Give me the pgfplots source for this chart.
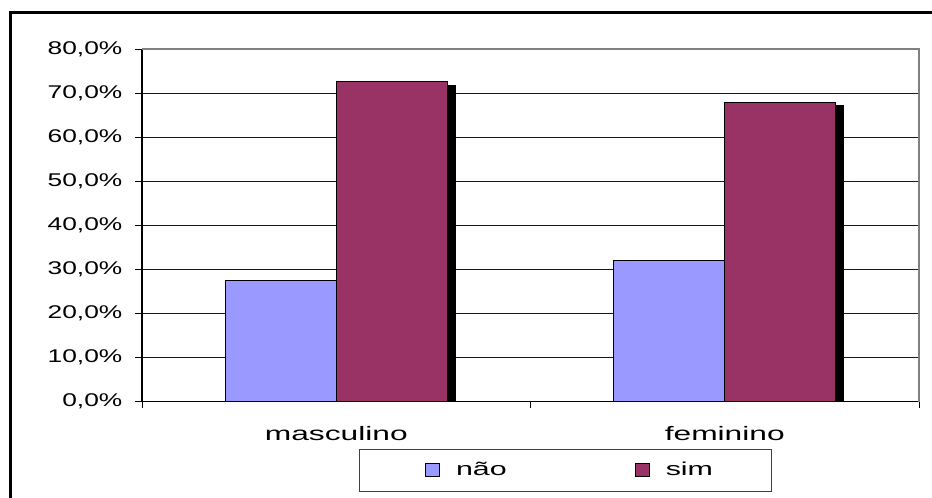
\documentclass[border=0pt]{standalone}
\usepackage{fontspec}
\setmainfont{Liberation Sans}
\newfontfamily\catfont[FakeStretch=1.63]{Liberation Sans}
\usepackage{graphicx}
\usepackage{pgfplots}
\pgfplotsset{compat=1.18}

\definecolor{naocolor}{HTML}{9999FF}
\definecolor{simcolor}{HTML}{993366}
\definecolor{framegray}{HTML}{808080}

% filled legend swatch drawn at the basic layer, so no plot decoration reaches it
\newcommand{\swatch}[1]{%
  \pgfsetlinewidth{0.75pt}\pgfsetstrokecolor{black}\pgfsetfillcolor{#1}%
  \pgfpathrectangle{\pgfpoint{0pt}{-4.9pt}}{\pgfpoint{10.5pt}{9.8pt}}%
  \pgfusepath{fill,stroke}}
% same swatch with some blank room on its left
\newcommand{\leadswatch}[1]{%
  \pgfpathmoveto{\pgfpoint{-7.5pt}{0pt}}\pgfusepath{discard}%
  \swatch{#1}}

\begin{document}
\begin{tikzpicture}[x=0.75pt,y=0.75pt]
\clip (0,0) rectangle (932,498);
\fill[white] (0,0) rectangle (932,498);
% outer chart frame
\draw[line width=2.25pt] (10,-20) -- (10,485) -- (960,485);
\coordinate (plotorigin) at (142,96.3);
\begin{axis}[
  at={(plotorigin)}, anchor=south west,
  scale only axis, width=582.75pt, height=264.3pt,
  ybar=0pt, bar width=0.2857,
  xmin=-0.5, xmax=1.5, ymin=0, ymax=80,
  clip mode=individual,
  axis lines=left,
  axis line style={-, black, line width=0.9pt},
  xtick={0,1}, xticklabels={masculino,feminino},
  minor xtick={-0.5,0.5,1.5},
  major x tick style={draw=none},
  minor x tick style={black, line width=0.75pt},
  ytick={0,10,...,80},
  y tick style={black, line width=0.75pt},
  tick align=outside, major tick length=5.25pt, minor tick length=4.5pt,
  ymajorgrids, grid style={black!90, line width=0.75pt},
  yticklabel={\scalebox{1.43}[1]{\pgfmathprintnumber[fixed,fixed zerofill,precision=1,use comma,assume math mode=true]{\tick}\%}},
  yticklabel style={font=\fontsize{13.8}{16}\selectfont, anchor=east, xshift=-6pt},
  xticklabel style={font=\catfont\fontsize{14.6}{17}\selectfont, anchor=base, yshift=-23.5pt},
  legend columns=2,
  legend style={at={(0.2793,-0.1331)}, anchor=north west,
    draw=black!75, line width=0.75pt,
    font=\catfont\fontsize{14}{17}\selectfont,
    inner xsep=42pt, inner ysep=7.9pt,
    /tikz/every odd column/.append style={column sep=10pt},
    /tikz/every even column/.append style={column sep=94pt}},
  after end axis/.code={
    \draw[framegray, line width=1.5pt] (rel axis cs:0,1) -- (rel axis cs:1,1) -- (rel axis cs:1,0);
  },
]
\addplot[fill=naocolor, draw=black, line width=0.75pt,
  legend image code/.code={\leadswatch{naocolor}}]
  coordinates {(0,27.4) (1,32.0)};
\addplot[fill=simcolor, draw=black, line width=0.75pt,
  preaction={fill=black, transform canvas={xshift=6pt, yshift=-2.6pt}},
  legend image code/.code={\swatch{simcolor}}]
  coordinates {(0,72.6) (1,68.0)};
\legend{não,sim}
\end{axis}
\end{tikzpicture}
\end{document}
